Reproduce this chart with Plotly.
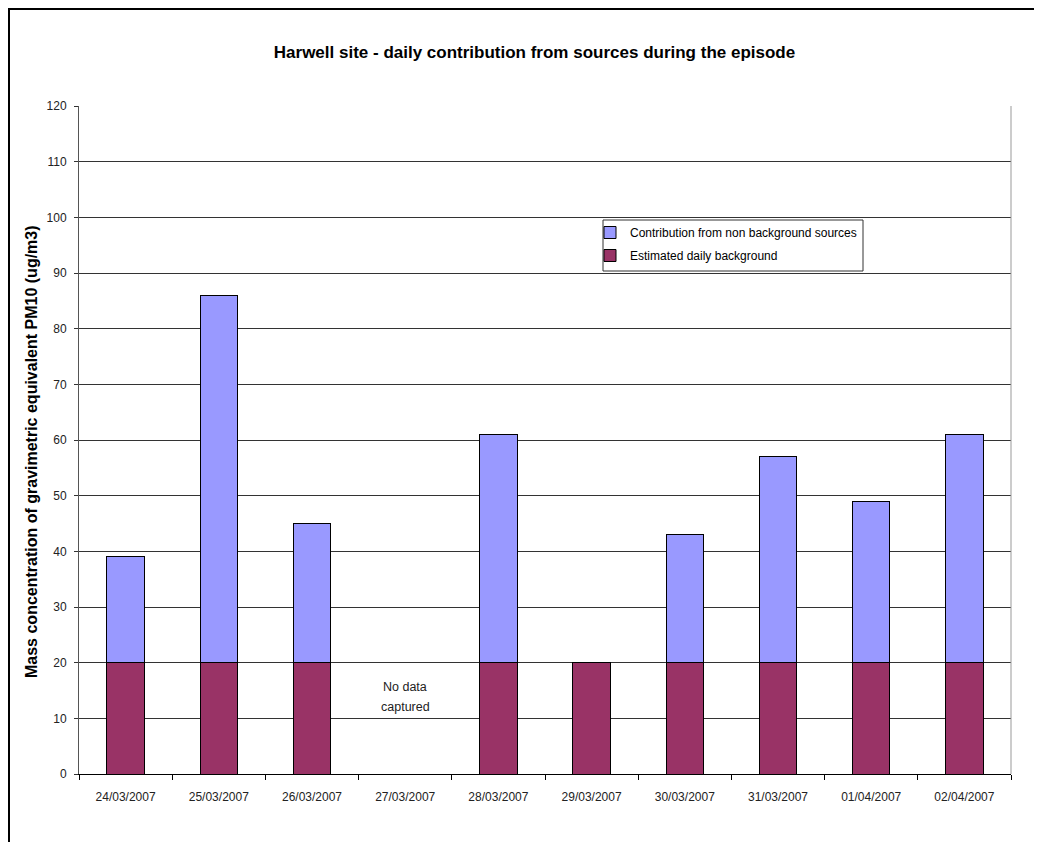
import plotly.graph_objects as go

dates = ["24/03/2007", "25/03/2007", "26/03/2007", "27/03/2007", "28/03/2007",
         "29/03/2007", "30/03/2007", "31/03/2007", "01/04/2007", "02/04/2007"]
background = [20, 20, 20, None, 20, 20, 20, 20, 20, 20]
contribution = [19, 66, 25, None, 41, 0, 23, 37, 29, 41]
y_ticks = list(range(0, 121, 10))

# page offset (browser body margin)
OFF = 8
W, H = 1042 - OFF, 842 - OFF
L, R, T, B = 79 - OFF, 31, 106 - OFF, 68
pw, ph = W - L - R, H - T - B

def px_x(p):
    return (p - OFF - L) / pw

def px_y(p):
    return (H - B - (p - OFF)) / ph

FONT = "Liberation Sans, Arial, sans-serif"

fig = go.Figure()
fig.add_trace(go.Bar(
    x=dates, y=background, name="Estimated daily background",
    marker=dict(color="#993366", line=dict(color="#000000", width=1)),
    legendgroup="bg", legendrank=2,
))
fig.add_trace(go.Bar(
    x=dates, y=contribution, name="Contribution from non background sources",
    marker=dict(color="#9999FF", line=dict(color="#000000", width=1)),
    legendgroup="nb", legendrank=1,
))

fig.add_annotation(
    x="27/03/2007", y=15.6, xref="x", yref="y",
    text="No data", showarrow=False,
    font=dict(family=FONT, size=12.5, color="#222222"),
)
fig.add_annotation(
    x="27/03/2007", y=12.0, xref="x", yref="y",
    text="captured", showarrow=False,
    font=dict(family=FONT, size=12.5, color="#222222"),
)
# y-axis title
fig.add_annotation(
    x=px_x(31), y=px_y(452), xref="paper", yref="paper",
    text="<b>Mass concentration of gravimetric equivalent PM10 (ug/m3)</b>",
    textangle=-90, showarrow=False, xanchor="center", yanchor="middle",
    font=dict(family=FONT, size=16, color="#000000"),
)

# outer chart border
fig.add_shape(
    type="rect", xref="paper", yref="paper",
    x0=px_x(OFF + 1), x1=px_x(1060), y0=px_y(860), y1=px_y(OFF + 1),
    line=dict(color="#000000", width=2), fillcolor="rgba(0,0,0,0)", layer="above",
)
# right plot-area border
fig.add_shape(
    type="line", xref="paper", yref="paper",
    x0=1, x1=1, y0=0, y1=1, line=dict(color="#999999", width=1),
)
# legend box
fig.add_shape(
    type="rect", xref="paper", yref="paper",
    x0=px_x(603), x1=px_x(863), y0=px_y(271), y1=px_y(220),
    line=dict(color="#333333", width=1), fillcolor="white", layer="below",
)

fig.update_layout(
    width=W, height=H,
    margin=dict(l=L, r=R, t=T, b=B),
    paper_bgcolor="white", plot_bgcolor="white",
    barmode="stack", bargap=0.6,
    font=dict(family=FONT, size=12, color="#222222"),
    title=dict(
        text="<b>Harwell site - daily contribution from sources during the episode</b>",
        x=px_x(534.5), xref="paper", xanchor="center",
        y=1 - (52 - OFF) / H, yanchor="middle",
        font=dict(family=FONT, size=17, color="#000000"),
    ),
    legend=dict(
        x=px_x(590), y=px_y(218), xanchor="left", yanchor="top",
        traceorder="grouped",
        bgcolor="rgba(0,0,0,0)", borderwidth=0,
        font=dict(family=FONT, size=12, color="#000000"),
        tracegroupgap=4,
    ),
    showlegend=True,
)

fig.update_xaxes(
    type="category", categoryorder="array", categoryarray=dates,
    tickson="boundaries", ticks="outside", ticklen=5, tickcolor="#000000",
    showline=True, linecolor="#000000", linewidth=1,
    showgrid=False, zeroline=False,
    tickfont=dict(family=FONT, size=12, color="#222222"),
    ticklabelstandoff=12,
    range=[-0.5, 9.5],
)
fig.update_yaxes(
    range=[0, 120], tickvals=y_ticks, ticktext=[str(v) for v in y_ticks],
    ticks="outside", ticklen=4, tickcolor="#333333",
    showline=True, linecolor="#555555", linewidth=1,
    showgrid=True, gridcolor="#333333", gridwidth=1, zeroline=False,
    tickfont=dict(family=FONT, size=12, color="#222222"),
    ticklabelstandoff=5,
)

fig.write_html("out.html")
